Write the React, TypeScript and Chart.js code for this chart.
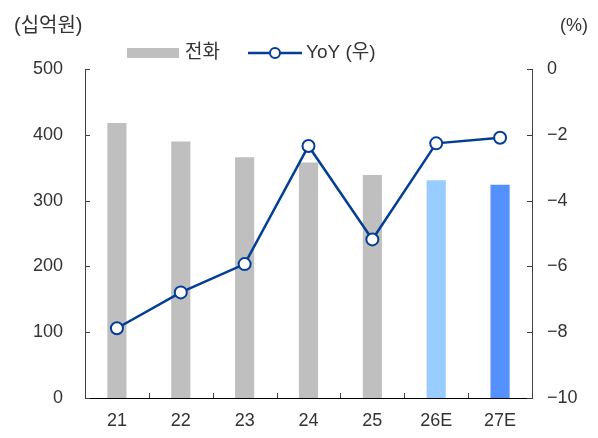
import React, { useEffect, useRef } from "react";
import { Chart, registerables } from "chart.js";

Chart.register(...registerables);

const categories = ["21", "22", "23", "24", "25", "26E", "27E"];
const phoneRevenue = [418, 390, 366, 358, 339, 331, 324];
const yoyGrowth = [-7.88, -6.79, -5.93, -2.34, -5.18, -2.26, -2.09];
const barColors = ["#BFBFBF", "#BFBFBF", "#BFBFBF", "#BFBFBF", "#BFBFBF", "#99CCFF", "#5590FF"];
const leftTicks = [0, 100, 200, 300, 400, 500];
const rightTicks = [0, -2, -4, -6, -8, -10];
const barLabel = "전화";
const lineLabel = "YoY (우)";
const leftTitle = "(십억원)";
const rightTitle = "(%)";

const FONT = "'Liberation Sans', 'Noto Sans CJK KR', Arial, sans-serif";
const TEXT = "#333333";
const AXIS = "#404040";
const LINE = "#023E94";

const overlay = {
  id: "overlay",
  afterDraw(chart: any) {
    const ctx = chart.ctx;
    const x = chart.scales.x;
    const yL = chart.scales.y;
    const yR = chart.scales.y1;
    ctx.save();
    ctx.strokeStyle = AXIS;
    ctx.lineWidth = 1;
    leftTicks.forEach((v) => {
      const py = Math.round(yL.getPixelForValue(v)) + 0.5;
      ctx.beginPath();
      ctx.moveTo(yL.right, py);
      ctx.lineTo(yL.right + 5, py);
      ctx.stroke();
    });
    rightTicks.forEach((v) => {
      const py = Math.round(yR.getPixelForValue(v)) + 0.5;
      ctx.beginPath();
      ctx.moveTo(yR.left - 5, py);
      ctx.lineTo(yR.left, py);
      ctx.stroke();
    });
    for (let i = 1; i < categories.length; i++) {
      const px = Math.round((x.getPixelForValue(i - 1) + x.getPixelForValue(i)) / 2) + 0.5;
      ctx.beginPath();
      ctx.moveTo(px, x.top);
      ctx.lineTo(px, x.top - 5);
      ctx.stroke();
    }
    ctx.fillStyle = TEXT;
    ctx.textBaseline = "middle";
    ctx.font = `20px ${FONT}`;
    ctx.textAlign = "left";
    ctx.fillText(leftTitle, 14, 26);
    ctx.font = `18px ${FONT}`;
    ctx.textAlign = "right";
    ctx.fillText(rightTitle, 588, 26);
    const ly = 53;
    ctx.fillStyle = "#BFBFBF";
    ctx.fillRect(127, 48, 52, 10);
    ctx.fillStyle = TEXT;
    ctx.textAlign = "left";
    ctx.font = `19px ${FONT}`;
    ctx.fillText(barLabel, 185, ly);
    ctx.strokeStyle = LINE;
    ctx.lineWidth = 2.5;
    ctx.beginPath();
    ctx.moveTo(248, ly);
    ctx.lineTo(302, ly);
    ctx.stroke();
    ctx.beginPath();
    ctx.arc(275, ly, 5, 0, Math.PI * 2);
    ctx.fillStyle = "#FFFFFF";
    ctx.fill();
    ctx.lineWidth = 2;
    ctx.stroke();
    ctx.fillStyle = TEXT;
    ctx.fillText(lineLabel, 306, ly);
    ctx.restore();
  },
};

export default function App() {
  const ref = useRef<HTMLCanvasElement | null>(null);
  useEffect(() => {
    document.body.style.margin = "0";
    const chart = new Chart(ref.current as HTMLCanvasElement, {
      type: "bar",
      data: {
        labels: categories,
        datasets: [
          {
            type: "line",
            label: lineLabel,
            data: yoyGrowth,
            yAxisID: "y1",
            borderColor: LINE,
            borderWidth: 2.5,
            pointRadius: 6,
            pointBorderWidth: 2,
            pointBackgroundColor: "#FFFFFF",
            pointBorderColor: LINE,
            tension: 0,
            order: 0,
          } as any,
          {
            type: "bar",
            label: barLabel,
            data: phoneRevenue,
            yAxisID: "y",
            backgroundColor: barColors,
            barPercentage: 0.3,
            categoryPercentage: 1.0,
            order: 1,
          } as any,
        ],
      },
      options: {
        animation: false,
        responsive: false,
        maintainAspectRatio: false,
        layout: { padding: { top: 69, left: 0, right: 0, bottom: 0 } },
        plugins: { legend: { display: false }, tooltip: { enabled: false }, title: { display: false } },
        scales: {
          x: {
            offset: true,
            grid: { display: false, drawTicks: false },
            border: { display: true, color: "#000000", width: 1 },
            ticks: { color: TEXT, font: { family: FONT, size: 18 }, padding: 12, maxRotation: 0 },
            afterFit: (s: any) => { s.height = 40; },
          },
          y: {
            position: "left",
            min: 0,
            max: 500,
            grid: { display: false, drawTicks: false },
            border: { display: true, color: AXIS, width: 1 },
            ticks: { stepSize: 100, color: TEXT, font: { family: FONT, size: 18 }, padding: 22 },
            afterFit: (s: any) => { s.width = 85; },
          },
          y1: {
            position: "right",
            min: -10,
            max: 0,
            grid: { display: false, drawTicks: false },
            border: { display: true, color: AXIS, width: 1 },
            ticks: {
              stepSize: 2,
              color: TEXT,
              font: { family: FONT, size: 18 },
              padding: 15,
              callback: (v: any) => (Number(v) < 0 ? "\u2212" + Math.abs(Number(v)) : String(v)),
            },
            afterFit: (s: any) => { s.width = 66; },
          },
        },
      },
      plugins: [overlay],
    });
    return () => chart.destroy();
  }, []);
  return (
    <div style={{ width: 598, height: 438, position: "relative", background: "#fff" }}>
      <canvas ref={ref} width={598} height={438} style={{ display: "block" }} />
    </div>
  );
}
